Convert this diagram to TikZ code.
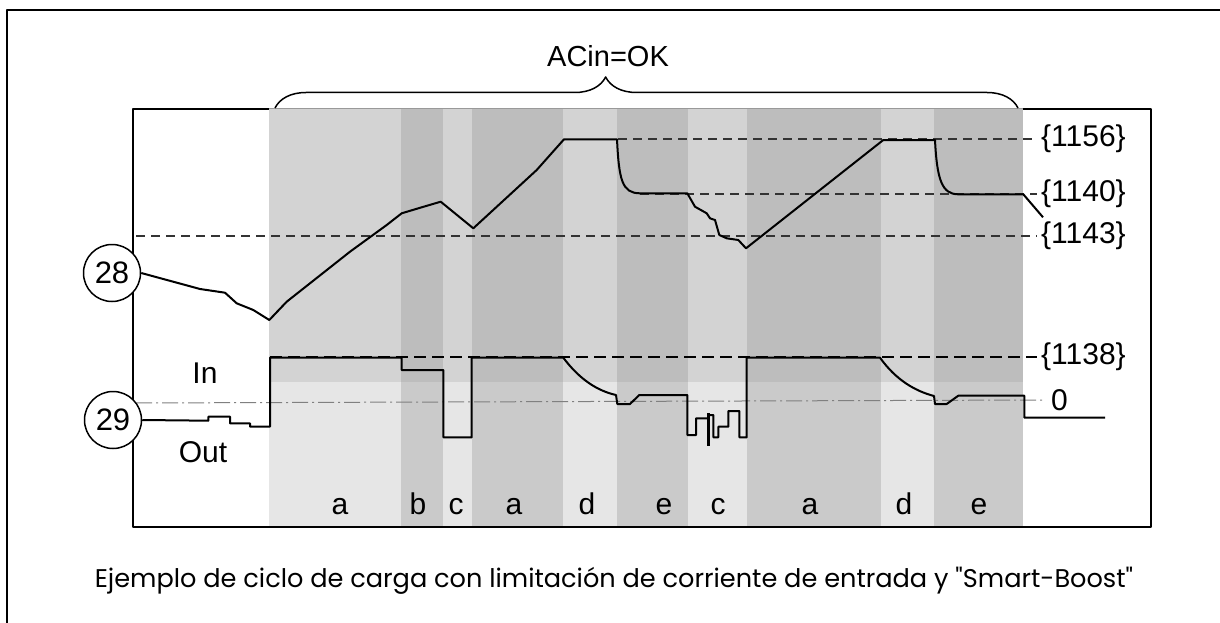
\documentclass[tikz,border=0pt]{standalone}
\usepackage{fontspec}
\setmainfont{Liberation Sans}
\newfontfamily\CaptionFont{Poppins}
\usetikzlibrary{decorations.pathreplacing,positioning}

\definecolor{topL}{HTML}{D3D3D3}
\definecolor{topD}{HTML}{BDBDBD}
\definecolor{botL}{HTML}{E6E6E6}
\definecolor{botD}{HTML}{CACACA}

\begin{document}
\begin{tikzpicture}[x=1pt,y=-1pt,line join=round,
    trace/.style={line width=2pt},
    limit/.style={line width=1.5pt,black!80,dash pattern=on 9pt off 6pt},
    heavylimit/.style={line width=2pt,black,dash pattern=on 12pt off 6pt},
    zeroline/.style={line width=1pt,black!50,dash pattern=on 16pt off 4pt on 2pt off 4pt},
    marker/.style={circle,draw,fill=white,line width=1.5pt,minimum size=57pt,inner sep=0pt,font=\fontsize{31}{33}\selectfont},
    lbl/.style={font=\fontsize{30}{32}\selectfont,inner sep=4pt},
    phase/.style={font=\fontsize{30}{32}\selectfont,anchor=base}]

  \useasboundingbox (0,0) rectangle (1220,623);
  \draw[line width=2.5pt] (7,640) -- (7,10) -- (1240,10);

  % bands behind the traces
  \foreach \xa/\xb/\s in {269/401/L,401/443/D,443/472/L,472/563/D,563/617/L,617/688/D,688/747/L,747/881/D,881/934/L,934/1023/D}{
    \fill[top\s] (\xa,109) rectangle (\xb,382);
    \fill[bot\s] (\xa,382) rectangle (\xb,527);
  }
  \draw[line width=2pt] (269,109) -- (133,109) -- (133,527) -- (1151,527) -- (1151,109) -- (1023,109);
  \draw[line width=1pt,black!40] (269,109) -- (1023,109);

  \foreach \x/\t [count=\i] in {340/a,418/b,456/c,514/a,587/d,664/e,718/c,810/a,904/d,979/e}
    \node[phase] (ph\i) at (\x,514) {\t};

  % limit labels
  \node[lbl,anchor=west] (l1156) at (1037,139) {\{1156\}};
  \node[lbl,anchor=west] (l1140) at (1037,194) {\{1140\}};
  \node[lbl,anchor=west] (l1143) at (1037,236) {\{1143\}};
  \node[lbl,anchor=west] (l1138) at (1037,357) {\{1138\}};
  \node[lbl,anchor=west,inner sep=8pt] (l0) at (1043,400) {0};

  \draw[limit] (618,139) -- (l1156.west);
  \draw[limit] (640,194) -- (l1140.west);
  \draw[limit] (136,236) -- (l1143.west);
  \draw[heavylimit] (270,357) -- (l1138.west);
  \draw[zeroline] (136,403) -- (l0.west);

  \node[marker] (c28) at (112,273) {28};
  \node[marker] (c29) at (113,420) {29};
  \node[lbl] (in) at (205,373) {In};
  \node[lbl] (out) at (203,452) {Out};

  % battery voltage
  \draw[trace] (c28.east) -- (200,289) -- (225,292.7) -- (236.7,303.3) -- (253.3,310) -- (269.3,320)
    -- (286.7,301.7) -- (350,251.7) -- (386.7,225) -- (401.7,213.3) -- (421.7,207.3) -- (440.7,201.7)
    -- (473.3,228.3) -- (536.7,170) -- (564,139.3) -- (617,139.3)
    .. controls (619,180) and (622,193.3) .. (640,193.3) -- (687.3,193.3)
    -- (695,206.7) -- (706.7,213.3) -- (710,218.3) -- (715,220) -- (719.3,235) -- (726.7,238.3)
    -- (738.3,240) -- (746,248.3) -- (883.3,140) -- (935,140)
    .. controls (937,180) and (942,194.3) .. (958.3,194.3) -- (1023.3,194.3) -- (1043,217.3);

  % input current
  \draw[trace] (c29.east) -- (208.3,420.7) -- (208.3,416.7) -- (230,416.7) -- (230,423.3) -- (250,423.3)
    -- (250,426.7) -- (270,426.7) -- (270,357.7) -- (401.7,357.7) -- (401.7,370) -- (443.3,370)
    -- (443.3,437.3) -- (471.7,437.3) -- (471.7,357.7) -- (563.3,357.7)
    .. controls (580,380) and (598,391) .. (616,395) -- (617.3,404) -- (630,404) -- (639.3,395) -- (687.3,395)
    -- (687.3,435) -- (696,435) -- (696,418.3) -- (708,418.3) -- (708,415) -- (713.3,415)
    -- (713.3,437.3) -- (718.3,437.3) -- (718.3,426.7) -- (728.3,426.7) -- (728.3,411) -- (739.3,411)
    -- (739.3,437.3) -- (746.7,437.3) -- (746.7,357.7) -- (880,357.7)
    .. controls (896,380) and (915,391) .. (934,396) -- (935,404) -- (946.7,404) -- (958.3,395.7)
    -- (1024.3,395.7) -- (1024.3,417.7) -- (1105,417.7);
  \draw[line width=3pt] (708.5,413) -- (708.5,446);

  \coordinate (brL) at (275,108);
  \coordinate (brR) at (1018,108);
  \draw[line width=1.5pt,decorate,decoration={brace,amplitude=31pt,aspect=0.445}] (brL) -- (brR);
  \node[font=\fontsize{29}{31}\selectfont,anchor=base] (acin) at (608,67) {ACin=OK};

  \node[font=\CaptionFont\fontsize{25.6}{29}\selectfont] (caption) at (614,581)
    {Ejemplo de ciclo de carga con limitación de corriente de entrada y "Smart-Boost"};
\end{tikzpicture}
\end{document}
